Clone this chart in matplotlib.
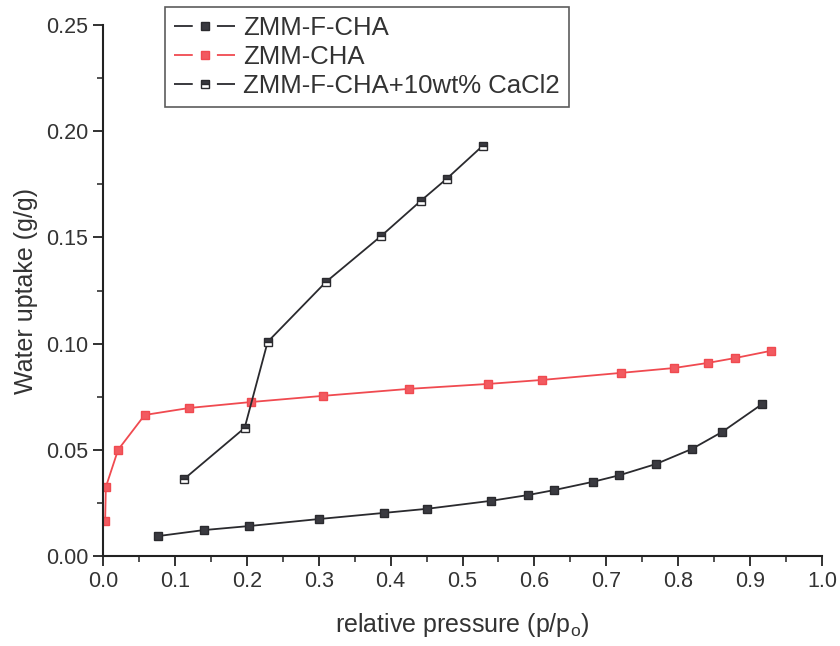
import matplotlib
matplotlib.use("Agg")
import matplotlib.pyplot as plt
from matplotlib.ticker import MultipleLocator, FormatStrFormatter

plt.rcParams["font.family"] = ["Liberation Sans", "DejaVu Sans"]
plt.rcParams["mathtext.default"] = "regular"
plt.rcParams["lines.scale_dashes"] = False

# ZMM-F-CHA isotherm
p_f = [0.077, 0.140, 0.203, 0.300, 0.391, 0.450, 0.540, 0.591, 0.627,
       0.681, 0.718, 0.769, 0.819, 0.861, 0.917]
w_f = [0.0094, 0.0122, 0.0141, 0.0174, 0.0203, 0.0222, 0.0260, 0.0287,
       0.0310, 0.0349, 0.0380, 0.0433, 0.0504, 0.0584, 0.0716]

# ZMM-CHA isotherm
p_c = [0.003, 0.004, 0.021, 0.058, 0.120, 0.206, 0.306, 0.426, 0.535,
       0.611, 0.720, 0.794, 0.841, 0.879, 0.929]
w_c = [0.0165, 0.0325, 0.0500, 0.0664, 0.0697, 0.0725, 0.0754, 0.0787,
       0.0810, 0.0829, 0.0862, 0.0885, 0.0909, 0.0932, 0.0966]

# ZMM-F-CHA + 10wt% CaCl2 isotherm
p_ca = [0.113, 0.197, 0.229, 0.310, 0.387, 0.442, 0.478, 0.528]
w_ca = [0.0363, 0.0603, 0.1008, 0.1290, 0.1507, 0.1672, 0.1776, 0.1931]

fig = plt.figure(figsize=(8.4, 6.46), dpi=100)
ax = fig.add_axes([0.1226, 0.1393, 0.856, 0.822])

ax.plot(p_f, w_f, color="#2a2a2e", lw=1.3, marker="s", ms=5.5,
        mfc="#3a3a40", mec="#2a2a2e", label="ZMM-F-CHA")
ax.plot(p_c, w_c, color="#f04a50", lw=1.3, marker="s", ms=5.5,
        mfc="#f25a60", mec="#f04a50", label="ZMM-CHA")
ax.plot(p_ca, w_ca, color="#2a2a2e", lw=1.3, marker="s", ms=5.5,
        fillstyle="top", mfc="#3a3a40", mfcalt="white", mec="#2a2a2e",
        label="ZMM-F-CHA+10wt% CaCl2")

ax.set_xlim(0, 1.0)
ax.set_ylim(0, 0.25)
ax.xaxis.set_major_locator(MultipleLocator(0.1))
ax.xaxis.set_minor_locator(MultipleLocator(0.05))
ax.yaxis.set_major_locator(MultipleLocator(0.05))
ax.yaxis.set_minor_locator(MultipleLocator(0.025))
ax.xaxis.set_major_formatter(FormatStrFormatter("%.1f"))
ax.yaxis.set_major_formatter(FormatStrFormatter("%.2f"))

for side in ("top", "right"):
    ax.spines[side].set_visible(False)
for side in ("left", "bottom"):
    ax.spines[side].set_linewidth(1.5)
    ax.spines[side].set_color("#222222")

ax.tick_params(which="major", direction="out", length=7, width=1.3,
               labelsize=15.5, colors="#222222", labelcolor="#333333")
ax.tick_params(which="minor", direction="out", length=4, width=1.1,
               colors="#222222")

ax.set_xlabel("relative pressure (p/p$_o$)", fontsize=18, color="#333333",
              labelpad=14)
ax.set_ylabel("Water uptake (g/g)", fontsize=18, color="#333333",
              labelpad=6)

leg = ax.legend(loc="upper left", bbox_to_anchor=(0.086, 1.034),
                fontsize=18.5, frameon=True, fancybox=False, numpoints=1,
                borderpad=0.35, labelspacing=0.2, handlelength=2.4,
                handletextpad=0.3, borderaxespad=0)
leg.get_frame().set_edgecolor("#333333")
leg.get_frame().set_linewidth(1.2)
for t in leg.get_texts():
    t.set_color("#333333")
# line segments on both sides of the marker, with a gap around it
for ln in leg.get_lines():
    ln.set_dashes([13.5, 17.4])

fig.savefig("out.png", dpi=100)
